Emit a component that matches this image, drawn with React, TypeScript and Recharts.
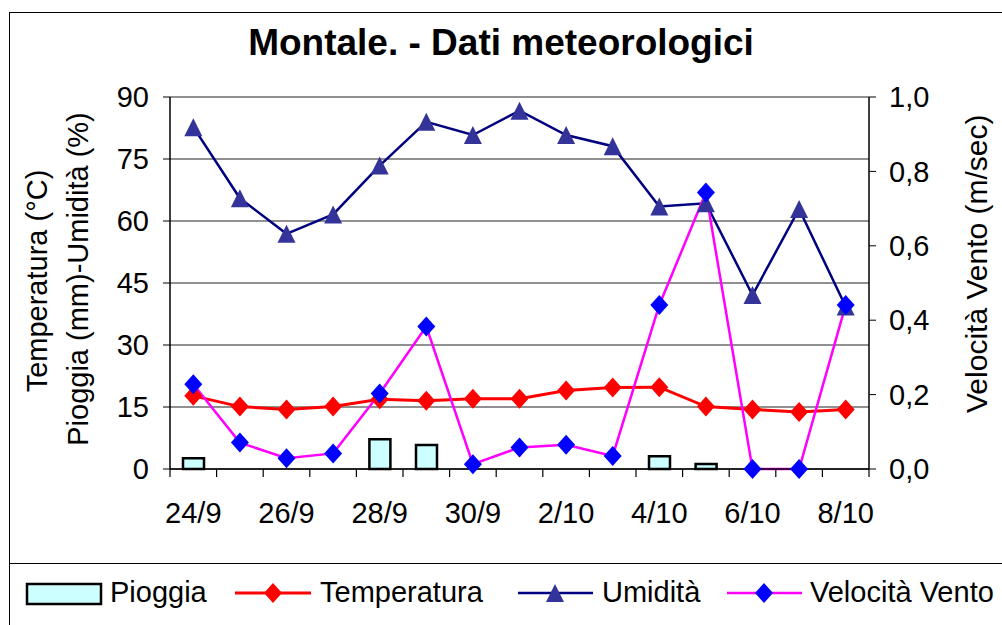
import { ComposedChart, Bar, Line, XAxis, YAxis, CartesianGrid } from 'recharts'

// dati
const giorni = ['24/9', '25/9', '26/9', '27/9', '28/9', '29/9', '30/9', '1/10', '2/10', '3/10', '4/10', '5/10', '6/10', '7/10', '8/10']
const pioggia = [2.6, 0, 0, 0, 7.2, 5.8, 0, 0, 0, 0, 3.1, 1.2, 0, 0, 0]
const temperatura = [17.7, 15.1, 14.4, 15.1, 16.9, 16.5, 17.0, 17.0, 19.0, 19.7, 19.8, 15.1, 14.4, 13.8, 14.4]
const umidita = [82.7, 65.5, 56.9, 61.6, 73.4, 84.0, 80.8, 86.7, 80.8, 78.1, 63.5, 64.3, 42.1, 62.9, 39.3]
const vento = [0.228, 0.071, 0.029, 0.042, 0.203, 0.383, 0.013, 0.058, 0.065, 0.035, 0.441, 0.743, 0, 0, 0.441]
const ticksSx = [0, 15, 30, 45, 60, 75, 90]
const ticksDx = [0, 0.2, 0.4, 0.6, 0.8, 1.0]

const FONT = '"Liberation Sans", Arial, sans-serif'
const PLOT_LEFT = 170
const PLOT_RIGHT = 869
const PLOT_TOP = 97
const PLOT_BOTTOM = 469
const CHART_W = 1002
const CHART_H = 563
const BAND = (PLOT_RIGHT - PLOT_LEFT) / giorni.length

const chartData = giorni.map((g, i) => ({
  giorno: g,
  Pioggia: pioggia[i],
  Temperatura: temperatura[i],
  'Umidità': umidita[i],
  'Velocità Vento': vento[i],
}))

const diamondPath = (cx: number, cy: number, w: number, h: number) =>
  `M${cx},${cy - h} L${cx + w},${cy} L${cx},${cy + h} L${cx - w},${cy} Z`

const trianglePath = (cx: number, cy: number, w: number, h: number) =>
  `M${cx},${cy - h} L${cx + w},${cy + h} L${cx - w},${cy + h} Z`

const diamondDot = (fill: string) => (props: any) => {
  const { cx, cy, index } = props
  if (cx == null || cy == null) return <g key={`d-${index}`} />
  return <path key={`d-${index}`} d={diamondPath(cx, cy, 9, 10)} fill={fill} stroke="none" />
}

const triangleDot = (props: any) => {
  const { cx, cy, index } = props
  if (cx == null || cy == null) return <g key={`t-${index}`} />
  return <path key={`t-${index}`} d={trianglePath(cx, cy, 9, 9)} fill="#333399" stroke="none" />
}

// tacche tra le categorie, etichette a giorni alterni
const XTick = (props: any) => {
  const { x, y, payload, index } = props
  const last = index === giorni.length - 1
  return (
    <g>
      <line x1={x - BAND / 2} x2={x - BAND / 2} y1={y} y2={y + 8} stroke="#000" strokeWidth={1.2} />
      {last && <line x1={x + BAND / 2} x2={x + BAND / 2} y1={y} y2={y + 8} stroke="#000" strokeWidth={1.2} />}
      {index % 2 === 0 && (
        <text x={x} y={y + 54} textAnchor="middle" fontSize={29} fontFamily={FONT} fill="#000">
          {payload.value}
        </text>
      )}
    </g>
  )
}

const fmtVento = (v: number) => v.toFixed(1).replace('.', ',')

export default function App() {
  return (
    <div style={{ position: 'absolute', left: 0, top: 0, width: 1002, height: 625, background: '#fff', overflow: 'hidden', fontFamily: FONT }}>
      {/* cornice */}
      <div style={{ position: 'absolute', left: 9, top: 12, width: 1100, height: 700, borderLeft: '1.5px solid #000', borderTop: '1.5px solid #000' }} />
      <div style={{ position: 'absolute', left: 9, top: 563, width: 1100, height: 0, borderTop: '1.5px solid #000' }} />

      <div style={{ position: 'absolute', left: 0, top: 0 }}>
        <ComposedChart width={CHART_W} height={CHART_H} data={chartData}
          margin={{ top: PLOT_TOP, right: 0, bottom: 0, left: 0 }}>
          <CartesianGrid yAxisId="sx" vertical={false} stroke="#222" strokeWidth={1.2} />
          <XAxis dataKey="giorno" interval={0} tickLine={false} tickSize={0} tickMargin={0}
            height={CHART_H - PLOT_BOTTOM} axisLine={{ stroke: '#000', strokeWidth: 1.5 }} tick={<XTick />} />
          <YAxis yAxisId="sx" domain={[0, 90]} ticks={ticksSx} width={PLOT_LEFT} tickSize={7} tickMargin={14}
            axisLine={{ stroke: '#000', strokeWidth: 1.5 }} tickLine={{ stroke: '#000' }}
            tick={{ fontSize: 29, fontFamily: FONT, fill: '#000' }} />
          <YAxis yAxisId="dx" orientation="right" domain={[0, 1]} ticks={ticksDx} width={CHART_W - PLOT_RIGHT}
            tickSize={7} tickMargin={13} tickFormatter={fmtVento}
            axisLine={{ stroke: '#000', strokeWidth: 1.5 }} tickLine={{ stroke: '#000' }}
            tick={{ fontSize: 29, fontFamily: FONT, fill: '#000', textAnchor: 'start' }} />
          <Bar yAxisId="sx" dataKey="Pioggia" barSize={21} fill="#ccffff" stroke="#000" strokeWidth={2.5} isAnimationActive={false} />
          <Line yAxisId="sx" dataKey="Temperatura" stroke="#ff0000" strokeWidth={3} dot={diamondDot('#ff0000')} activeDot={false} isAnimationActive={false} />
          <Line yAxisId="sx" dataKey="Umidità" stroke="#000080" strokeWidth={2.5} dot={triangleDot} activeDot={false} isAnimationActive={false} />
          <Line yAxisId="dx" dataKey="Velocità Vento" stroke="#ff00ff" strokeWidth={2.5} dot={diamondDot('#0000ff')} activeDot={false} isAnimationActive={false} />
        </ComposedChart>
      </div>

      {/* titoli */}
      <svg width={1002} height={625} style={{ position: 'absolute', left: 0, top: 0, pointerEvents: 'none' }}>
        <text x={501} y={55} textAnchor="middle" fontSize={37} fontWeight="bold" fontFamily={FONT} fill="#000">
          Montale. - Dati meteorologici
        </text>
        <text transform="translate(47,281) rotate(-90)" textAnchor="middle" fontSize={29} fontFamily={FONT} fill="#000">
          Temperatura (°C)
        </text>
        <text transform="translate(88,279) rotate(-90)" textAnchor="middle" fontSize={29} fontFamily={FONT} fill="#000">
          Pioggia (mm)-Umidità (%)
        </text>
        <text transform="translate(987,413) rotate(-90)" textAnchor="start" fontSize={30} fontFamily={FONT} fill="#000">
          Velocità Vento (m/sec)
        </text>

        {/* legenda */}
        <rect x={27} y={584} width={74} height={20} fill="#ccffff" stroke="#000" strokeWidth={2.5} />
        <text x={110} y={602} fontSize={29} fontFamily={FONT} fill="#000">Pioggia</text>

        <line x1={235} x2={311} y1={593} y2={593} stroke="#ff0000" strokeWidth={3} />
        <path d={diamondPath(273, 593, 9, 10)} fill="#ff0000" />
        <text x={320} y={602} fontSize={29} fontFamily={FONT} fill="#000">Temperatura</text>

        <line x1={518} x2={593} y1={593} y2={593} stroke="#000080" strokeWidth={2.5} />
        <path d={trianglePath(555, 593, 9, 9)} fill="#333399" />
        <text x={602} y={602} fontSize={29} fontFamily={FONT} fill="#000">Umidità</text>

        <line x1={727} x2={802} y1={593} y2={593} stroke="#ff00ff" strokeWidth={2.5} />
        <path d={diamondPath(764, 593, 9, 10)} fill="#0000ff" />
        <text x={810} y={602} fontSize={29} fontFamily={FONT} fill="#000">Velocità Vento</text>
      </svg>
    </div>
  )
}
